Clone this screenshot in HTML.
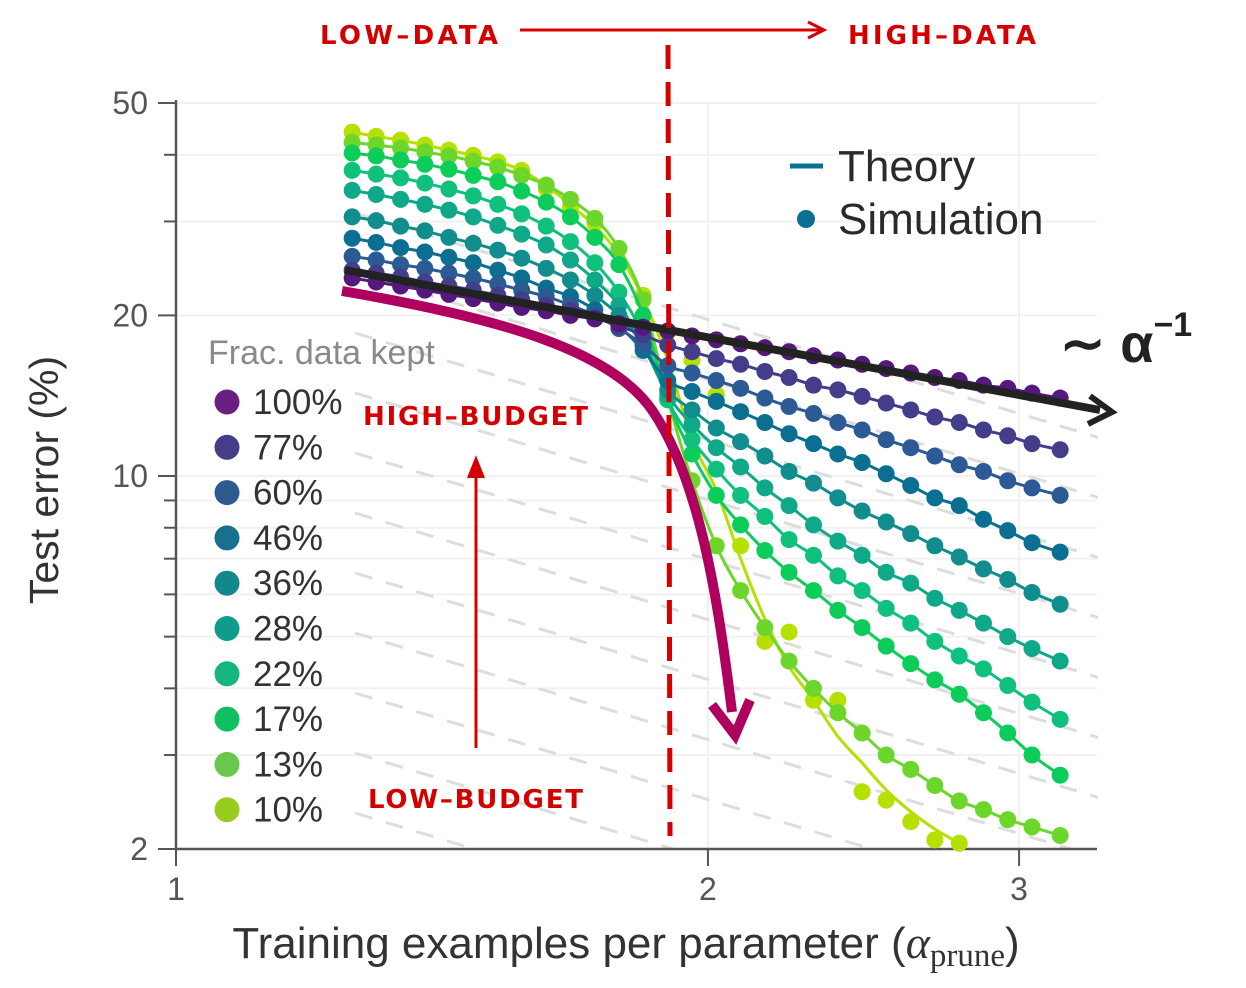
<!DOCTYPE html>
<html><head><meta charset="utf-8">
<style>
html,body{margin:0;padding:0;background:#fff;width:1246px;height:988px;overflow:hidden;}
svg{display:block;}
text{font-family:"Liberation Sans",sans-serif;}
.ann{font-family:"DejaVu Sans","Liberation Sans",sans-serif;fill:#d40000;font-size:26px;font-weight:bold;letter-spacing:2px;}
</style></head>
<body>
<svg id="chart" width="1246" height="988" viewBox="0 0 1246 988" xmlns="http://www.w3.org/2000/svg">
  <defs><clipPath id="plotclip"><rect x="176" y="100" width="922" height="750"/></clipPath></defs>
  <g id="grid"></g>
  <g id="guides" clip-path="url(#plotclip)"></g>
  <g id="axes"></g>
  <g id="series"></g>
  <g id="overlay"></g>
</svg>
<script>
// ---------- data ----------
const fracLabels = ["100%","77%","60%","46%","36%","28%","22%","17%","13%","10%"];
const fracColors = ["#55197c","#443d8a","#2c5a94","#0b6f91","#108d8c","#0fa98a","#10c07d","#0ccc5a","#6cd62a","#b5e000"];
const legendColors = ["#6a2080","#443d88","#2f5a8f","#18708f","#12878c","#109c8a","#17b57e","#10c060","#6ac64c","#98cc1f"];
const alphas = [1.258,1.298,1.340,1.383,1.427,1.473,1.521,1.569,1.620,1.672,1.726,1.781,1.838,1.898,1.959,2.022,2.087,2.154,2.223,2.295,2.369,2.445,2.523,2.605,2.688,2.775,2.864,2.956,3.051,3.165];
const err100 = [23.5,23.1,22.7,22.3,21.9,21.5,21.1,20.7,20.4,20.0,19.7,19.3,19.0,18.7,18.3,18.0,17.7,17.4,17.1,16.8,16.5,16.2,15.9,15.6,15.3,15.1,14.8,14.6,14.3,14.0];
const err77 = [24.3,24.0,23.6,23.1,22.7,22.3,21.8,21.4,20.9,20.4,19.8,19.1,18.4,17.6,17.1,16.6,16.2,15.7,15.3,14.8,14.5,14.1,13.7,13.3,12.9,12.6,12.2,11.9,11.5,11.2];
const err60 = [25.8,25.4,24.9,24.5,24.0,23.5,22.9,22.3,21.7,20.9,20.0,18.9,17.6,16.1,15.6,15.1,14.6,14.0,13.5,13.1,12.6,12.2,11.7,11.3,10.9,10.5,10.2,9.8,9.5,9.2];
const err46 = [27.9,27.4,26.8,26.3,25.7,25.1,24.3,23.5,22.5,21.7,20.5,19.1,17.2,15.1,14.4,13.8,13.2,12.6,12.0,11.5,11.0,10.6,10.1,9.6,9.1,8.8,8.3,7.9,7.5,7.2];
const err36 = [30.6,30.1,29.4,28.8,28.0,27.3,26.5,25.6,24.5,23.3,21.8,20.0,17.6,14.5,13.3,12.3,11.6,10.9,10.2,9.7,9.1,8.6,8.2,7.8,7.4,7.05,6.7,6.4,6.05,5.75];
const err28 = [34.3,33.7,33.0,32.3,31.5,30.6,29.5,28.4,27.1,25.4,23.3,20.9,17.6,14.2,12.5,11.3,10.4,9.5,8.8,8.1,7.55,7.1,6.6,6.3,5.9,5.6,5.3,5.0,4.75,4.5];
const err22 = [37.4,36.8,36.2,35.4,34.5,33.5,32.3,31.0,29.4,27.5,25.1,22.1,18.4,13.9,11.7,10.3,9.2,8.4,7.6,7.1,6.5,6.1,5.65,5.3,4.9,4.6,4.35,4.05,3.77,3.5];
const err17 = [40.3,39.8,39.1,38.4,37.6,36.6,35.6,34.2,32.6,30.6,28.0,24.9,20.0,13.9,11.0,9.2,8.1,7.25,6.6,6.1,5.6,5.2,4.8,4.45,4.15,3.9,3.6,3.3,3.0,2.75];
const err13 = [42.2,41.7,41.2,40.5,39.8,38.9,37.9,36.6,35.1,33.0,30.4,26.7,21.4,14.0,9.8,7.4,6.1,5.2,4.5,4.0,3.6,3.3,3.0,2.82,2.63,2.46,2.37,2.27,2.2,2.12];
const err10 = [44.1,43.3,42.6,41.7,40.8,39.9,38.8,37.4,34.6,31.9,29.8,26.7,21.8,18.6,16.5,14.2,7.4,4.9,5.1,3.8,3.8,2.56,2.47,2.25,2.08,2.05];
const theory10 = [44.1,43.3,42.6,41.7,40.8,39.9,38.8,37.4,35.0,32.2,29.4,26.0,21.5,16.5,11.7,9.4,7.0,5.4,4.4,3.8,3.25,2.9,2.58,2.35,2.18,2.05];
const allSeries = [err100,err77,err60,err46,err36,err28,err22,err17,err13,err10];
const theorySeries = [err100,err77,err60,err46,err36,err28,err22,err17,err13,theory10];
const yTicks = [50,20,10,2];
const yMinor = [2,3,4,5,6,7,8,9,10,20,30,40,50];
const xTicks = [1,2,3];

// ---------- scales ----------
const X0=176, PXD_X=1767, Y0=849, PXD_Y=533.6;
const xs = a => X0 + Math.log10(a)*PXD_X;
const ys = v => Y0 - (Math.log10(v)-Math.log10(2))*PXD_Y;
const NS="http://www.w3.org/2000/svg";
function mk(tag, attrs, parent){const e=document.createElementNS(NS,tag);for(const k in attrs)e.setAttribute(k,attrs[k]);parent.appendChild(e);return e;}

const grid=document.getElementById('grid'), guides=document.getElementById('guides'), axes=document.getElementById('axes'), ser=document.getElementById('series'), ov=document.getElementById('overlay');

yMinor.forEach(v=>{
  const l=mk('line',{x1:176,x2:1097,y1:ys(v),y2:ys(v),stroke:'#f1f1f1','stroke-width':2},grid);
  
  
});
xTicks.slice(1).forEach(a=>{
  const l=mk('line',{x1:xs(a),x2:xs(a),y1:103,y2:849,stroke:'#f1f1f1','stroke-width':2},grid);
  
  
});
for(let k=0;k<12;k++){
  const y1=213+k*60;
  const l=mk('line',{x1:355,y1:y1,x2:1100,y2:y1+745*0.302,stroke:'#dddddd','stroke-width':3,'stroke-dasharray':'18 14'},guides);
  
  
}

let a1=mk('line',{x1:176,y1:100,x2:176,y2:850,stroke:'#555','stroke-width':2.5},axes);


let a2=mk('line',{x1:175,y1:849,x2:1097,y2:849,stroke:'#555','stroke-width':2.5},axes);


yMinor.forEach(v=>{
  const major=yTicks.includes(v);
  const t=mk('line',{x1:major?158:164,x2:176,y1:ys(v),y2:ys(v),stroke:'#555','stroke-width':2},axes);
  
  
});
yTicks.forEach(v=>{
  const t=mk('text',{x:148,y:ys(v)+11,'text-anchor':'end','font-size':32,fill:'#555'},axes);
  t.textContent=v;
  
  
});
xTicks.forEach(a=>{
  const t=mk('line',{x1:xs(a),x2:xs(a),y1:849,y2:866,stroke:'#555','stroke-width':2},axes);
  
  
  const l=mk('text',{x:xs(a),y:900,'text-anchor':'middle','font-size':32,fill:'#555'},axes);
  l.textContent=a;
  
  
});

function smooth(pts){
  let d=`M${pts[0][0]},${pts[0][1]}`;
  for(let i=0;i<pts.length-1;i++){
    const p0=pts[Math.max(0,i-1)],p1=pts[i],p2=pts[i+1],p3=pts[Math.min(pts.length-1,i+2)];
    const c1x=p1[0]+(p2[0]-p0[0])/6,c1y=p1[1]+(p2[1]-p0[1])/6,c2x=p2[0]-(p3[0]-p1[0])/6,c2y=p2[1]-(p3[1]-p1[1])/6;
    d+=` C${c1x.toFixed(1)},${c1y.toFixed(1)} ${c2x.toFixed(1)},${c2y.toFixed(1)} ${p2[0].toFixed(1)},${p2[1].toFixed(1)}`;
  }
  return d;
}
for(let s=allSeries.length-1;s>=0;s--){
  const vals=allSeries[s];
  const g=mk('g',{},ser);
  
  
  const tpts=theorySeries[s].map((v,i)=>[xs(alphas[i]),ys(v)]);
  const p=mk('path',{d:smooth(tpts),fill:'none',stroke:fracColors[s],'stroke-width':3},g);
  
  
  vals.forEach((v,i)=>{
    const c=mk('circle',{cx:xs(alphas[i]),cy:ys(v),r:8.5,fill:fracColors[s]},g);
    
    
  });
}

let ft=mk('text',{x:208,y:364,'font-size':34,fill:'#8a8a8a'},ov);
ft.textContent='Frac. data kept';


fracLabels.forEach((lab,i)=>{
  const y=402+i*45.3;
  const c=mk('circle',{cx:227,cy:y,r:12.5,fill:legendColors[i]},ov);
  
  
  const t=mk('text',{x:253,y:y+12,'font-size':35,fill:'#333'},ov);
  t.textContent=lab;
  
  
});

ov.insertAdjacentHTML('beforeend',`
<line x1="790" y1="166" x2="823" y2="166" stroke="#0b6f91" stroke-width="5"/>
<text x="838" y="181" font-size="44" fill="#2a2a2a">Theory</text>
<circle cx="806" cy="219" r="9" fill="#0b6f91"/>
<text x="838" y="234" font-size="44" fill="#2a2a2a">Simulation</text>
<path d="M342,291 C500,318 610,350 652,410 C700,480 718,600 732,712" fill="none" stroke="#b0005f" stroke-width="10"/>
<path d="M712,705 L735,735 L750,700" fill="none" stroke="#b0005f" stroke-width="10"/>
<line x1="345" y1="270" x2="1100" y2="410" stroke="#222" stroke-width="8"/>
<path d="M1090,396 L1112,412 L1088,424" fill="none" stroke="#222" stroke-width="6"/>
<text x="1060" y="362" font-family="Liberation Serif,serif" font-size="54" font-weight="bold" fill="#222">∼ α<tspan dy="-26" font-size="34">−1</tspan></text>
<line x1="668" y1="45" x2="670" y2="836" stroke="#d40000" stroke-width="5" stroke-dasharray="24 13"/>
<text class="ann" x="320" y="44" textLength="180">LOW–DATA</text>
<line x1="520" y1="30" x2="820" y2="30" stroke="#d40000" stroke-width="3"/>
<path d="M808,22 L824,30 L808,38" fill="none" stroke="#d40000" stroke-width="3"/>
<text class="ann" x="848" y="44" textLength="190">HIGH–DATA</text>
<text class="ann" x="363" y="425" textLength="227">HIGH–BUDGET</text>
<line x1="476" y1="748" x2="476" y2="462" stroke="#d40000" stroke-width="3"/>
<path d="M468,478 L476,458 L484,478" fill="#d40000" stroke="#d40000" stroke-width="2"/>
<text class="ann" x="368" y="808" textLength="217">LOW–BUDGET</text>
<text x="58" y="480" transform="rotate(-90 58 480)" text-anchor="middle" font-size="41" fill="#333">Test error (%)</text>
<text x="626" y="958" text-anchor="middle" font-size="44" fill="#333">Training examples per parameter (<tspan font-family="Liberation Serif,serif" font-style="italic" font-size="46">α</tspan><tspan font-family="Liberation Serif,serif" font-size="33" dy="8">prune</tspan><tspan dy="-8">)</tspan></text>
`);
</script>
</body></html>
